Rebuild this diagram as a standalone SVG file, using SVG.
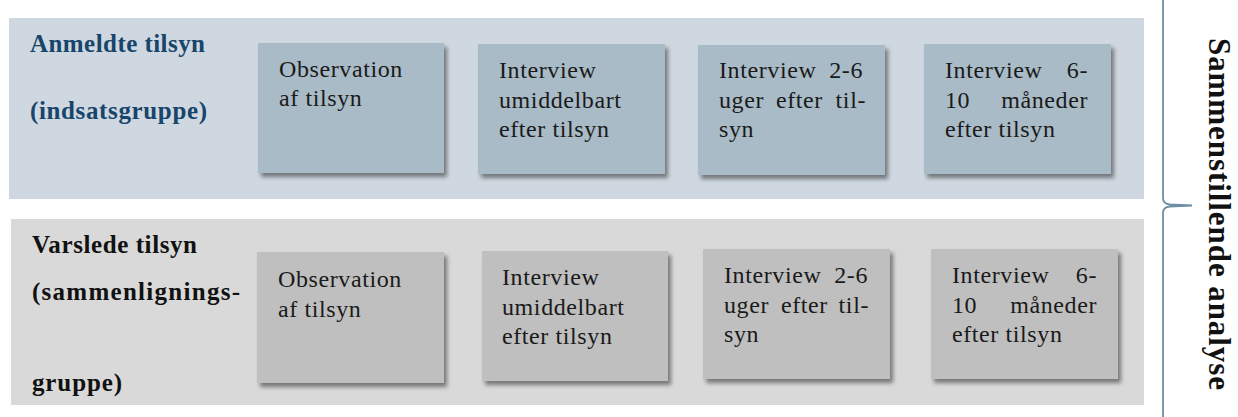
<svg xmlns="http://www.w3.org/2000/svg" width="1238" height="417" viewBox="0 0 1238 417">
<style>
.bandTop{fill:#cfd8e0}
.bandBot{fill:#d9d9d9}
.boxTop{fill:#a9bbc6;filter:url(#sh)}
.boxBot{fill:#bfbfbf;filter:url(#sh)}
.t{font-family:"Liberation Serif","Times New Roman",serif;font-size:24px;letter-spacing:0.6px;fill:#1a1a1a}
.lbl{font-family:"Liberation Serif","Times New Roman",serif;font-size:25px;font-weight:bold}
.lblTop{fill:#17456b}
.lblBot{fill:#111}
.side{font-family:"Liberation Serif","Times New Roman",serif;font-size:31px;font-weight:bold;fill:#111}
.brace{fill:none;stroke:#6f8ea3;stroke-width:1.8}
</style>
<defs>
<filter id="sh" x="-10%" y="-10%" width="125%" height="130%">
<feDropShadow dx="3" dy="4" stdDeviation="2.2" flood-color="#000" flood-opacity="0.45"/>
</filter>
</defs>

<g id="band-anmeldte">
<rect class="bandTop" x="9" y="18" width="1135" height="181"/>
<text class="lbl lblTop" x="30" y="52" textLength="175" lengthAdjust="spacing">Anmeldte tilsyn</text>
<text class="lbl lblTop" x="30" y="119" textLength="177" lengthAdjust="spacing">(indsatsgruppe)</text>
</g>

<g id="band-varslede">
<rect class="bandBot" x="11" y="219" width="1133" height="186"/>
<text class="lbl lblBot" x="32" y="253" textLength="165" lengthAdjust="spacing">Varslede tilsyn</text>
<text class="lbl lblBot" x="32" y="300" textLength="208" lengthAdjust="spacing">(sammenlignings-</text>
<text class="lbl lblBot" x="32" y="391" textLength="90" lengthAdjust="spacing">gruppe)</text>
</g>

<g id="top-obs">
<rect class="boxTop" x="258" y="43" width="186" height="130"/>
<text class="t" x="279" y="77">Observation</text>
<text class="t" x="279" y="106">af tilsyn</text>
</g>
<g id="top-int1">
<rect class="boxTop" x="478" y="44" width="187" height="130"/>
<text class="t" x="499" y="78">Interview</text>
<text class="t" x="499" y="108">umiddelbart</text>
<text class="t" x="499" y="137">efter tilsyn</text>
</g>
<g id="top-int2">
<rect class="boxTop" x="698" y="45" width="187" height="130"/>
<text class="t" y="78"><tspan x="719">Interview</tspan><tspan x="863" text-anchor="end">2-6</tspan></text>
<text class="t" y="108"><tspan x="719">uger</tspan><tspan x="776">efter</tspan><tspan x="866" text-anchor="end">til-</tspan></text>
<text class="t" x="719" y="137">syn</text>
</g>
<g id="top-int3">
<rect class="boxTop" x="924" y="44" width="187" height="130"/>
<text class="t" y="78"><tspan x="945">Interview</tspan><tspan x="1088" text-anchor="end">6-</tspan></text>
<text class="t" y="108"><tspan x="945">10</tspan><tspan x="1088" text-anchor="end">måneder</tspan></text>
<text class="t" x="945" y="137">efter tilsyn</text>
</g>

<g id="bot-obs">
<rect class="boxBot" x="257" y="252" width="187" height="131"/>
<text class="t" x="278" y="287">Observation</text>
<text class="t" x="278" y="317">af tilsyn</text>
</g>
<g id="bot-int1">
<rect class="boxBot" x="482" y="251" width="186" height="130"/>
<text class="t" x="502" y="285">Interview</text>
<text class="t" x="502" y="315">umiddelbart</text>
<text class="t" x="502" y="344">efter tilsyn</text>
</g>
<g id="bot-int2">
<rect class="boxBot" x="703" y="249" width="187" height="130"/>
<text class="t" y="283"><tspan x="724">Interview</tspan><tspan x="868" text-anchor="end">2-6</tspan></text>
<text class="t" y="313"><tspan x="724">uger</tspan><tspan x="781">efter</tspan><tspan x="869" text-anchor="end">til-</tspan></text>
<text class="t" x="724" y="342">syn</text>
</g>
<g id="bot-int3">
<rect class="boxBot" x="931" y="249" width="187" height="130"/>
<text class="t" y="283"><tspan x="952">Interview</tspan><tspan x="1097" text-anchor="end">6-</tspan></text>
<text class="t" y="313"><tspan x="952">10</tspan><tspan x="1097" text-anchor="end">måneder</tspan></text>
<text class="t" x="952" y="342">efter tilsyn</text>
</g>

<g id="connectors">
<path class="brace" d="M1163,0 V198 Q1163,204 1170,204.5 L1192,205.5 L1170,206.5 Q1163,207 1163,213 V417"/>
</g>

<g id="side-label">
<text class="side" x="1209" y="38" transform="rotate(90 1209 38)" textLength="352" lengthAdjust="spacing">Sammenstillende analyse</text>
</g>
</svg>
